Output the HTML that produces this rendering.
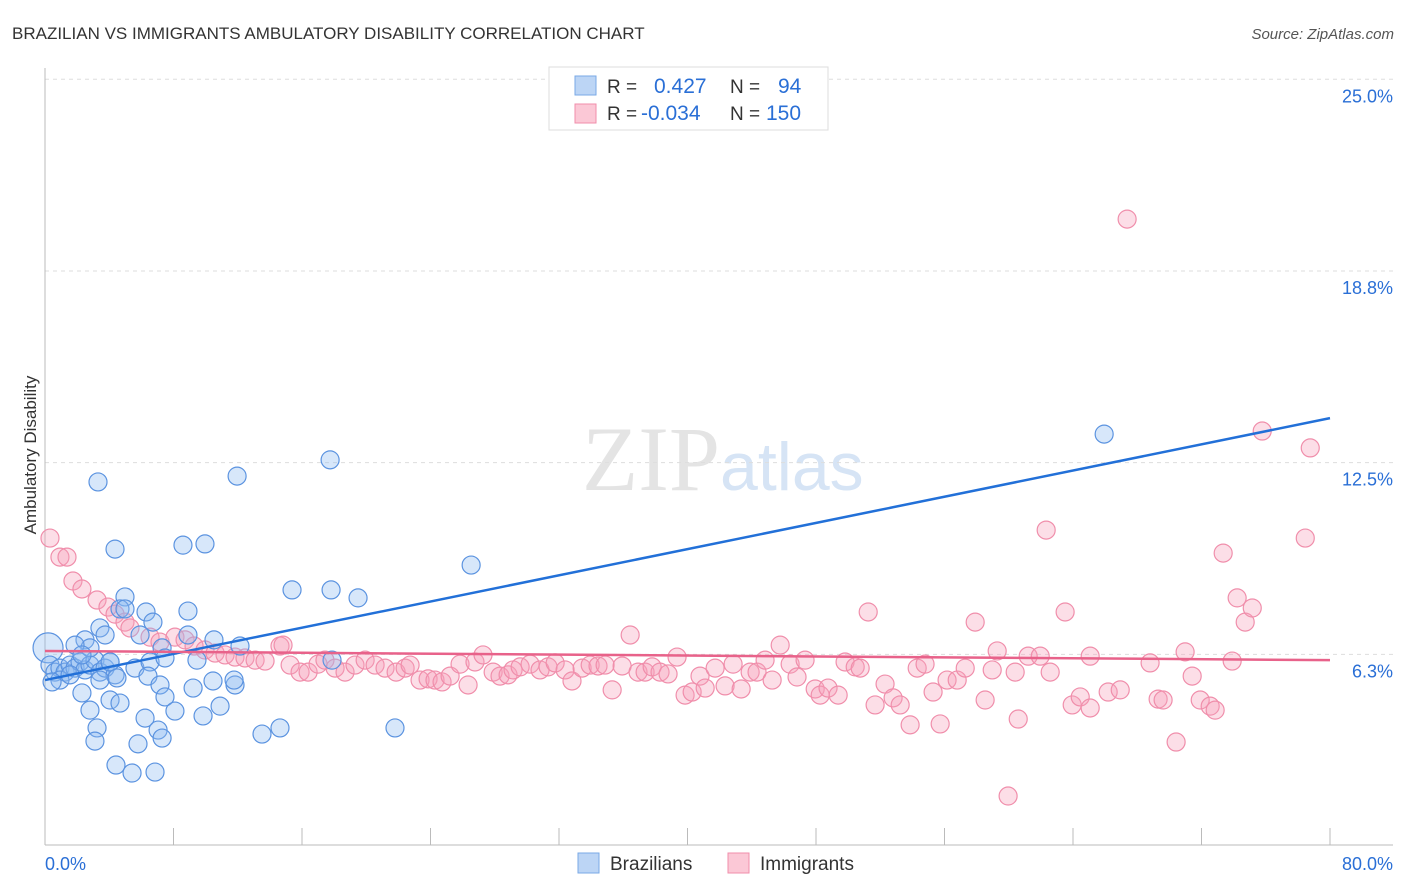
<!DOCTYPE html>
<html><head><meta charset="utf-8">
<style>
body{margin:0;background:#fff;font-family:"Liberation Sans",sans-serif;}
#wrap{position:relative;width:1406px;height:892px;overflow:hidden;}
</style></head>
<body>
<div id="wrap">
<svg id="chart" width="1406" height="892" xmlns="http://www.w3.org/2000/svg">
  <text x="12" y="39" font-size="17" fill="#333">BRAZILIAN VS IMMIGRANTS AMBULATORY DISABILITY CORRELATION CHART</text>
  <text x="1394" y="39" font-size="15" fill="#555" font-style="italic" text-anchor="end">Source: ZipAtlas.com</text>
  <text x="720" y="490" font-size="92" fill="#e4e4e4" font-family="Liberation Serif,serif" text-anchor="end">ZIP</text>
  <text x="720" y="490" font-size="68" fill="#d6e4f5" text-anchor="start">atlas</text>
  <g id="grid"></g>
  <g id="axes"></g>
  <g id="pts"></g>
  <g id="trends"></g>
  <text x="36" y="455" font-size="17" fill="#333" text-anchor="middle" transform="rotate(-90 36 455)">Ambulatory Disability</text>
  <g>
    <rect x="549" y="67" width="279" height="63" fill="#fff" stroke="#ddd"/>
    <rect x="575" y="76" width="21" height="19" fill="#bcd5f5" stroke="#7aa9e6"/>
    <rect x="575" y="104" width="21" height="19" fill="#fbc8d6" stroke="#f08eab"/>
    <text x="607" y="93" font-size="19" fill="#333">R = </text><text x="654" y="93" font-size="21" fill="#2a6fd6">0.427</text>
    <text x="730" y="93" font-size="19" fill="#333">N = </text><text x="778" y="93" font-size="21" fill="#2a6fd6">94</text>
    <text x="607" y="120" font-size="19" fill="#333">R = </text><text x="641" y="120" font-size="21" fill="#2a6fd6">-0.034</text>
    <text x="730" y="120" font-size="19" fill="#333">N = </text><text x="766" y="120" font-size="21" fill="#2a6fd6">150</text>
  </g>
  <g>
    <rect x="578" y="853" width="21" height="20" fill="#bcd5f5" stroke="#7aa9e6"/>
    <text x="610" y="870" font-size="19" fill="#333">Brazilians</text>
    <rect x="728" y="853" width="21" height="20" fill="#fbc8d6" stroke="#f08eab"/>
    <text x="760" y="870" font-size="19" fill="#333">Immigrants</text>
  </g>
</svg>
</div>
<script>
const yTicks = [6.3, 12.5, 18.8, 25.0];
const xTickLabels = ["0.0%", "80.0%"];
const xTickCount = 10;
const blueX = [0.19,0.31,0.62,0.93,1.25,1.56,1.87,2.18,2.49,2.8,3.11,3.42,3.74,4.05,4.36,0.93,0.44,1.56,
 3.3,11.96,17.75,65.94,4.36,8.59,9.96,26.53,15.38,17.81,19.49,4.98,4.67,4.98,6.29,8.9,6.72,3.42,3.74,2.49,2.8,5.92,7.29,8.9,10.52,12.14,1.87,2.3,
 4.05,5.6,6.54,7.47,9.46,17.87,3.42,4.48,6.41,7.16,2.3,4.05,4.67,7.47,9.22,10.46,11.83,11.77,
 2.8,6.23,8.09,9.84,10.9,3.24,7.04,13.51,14.63,21.79,3.11,5.79,7.29,4.42,5.42,6.85];
const blueY = [6.46,5.9,5.67,5.8,5.67,5.9,5.8,6.0,5.74,5.9,6.06,5.67,5.8,6.0,5.58,5.41,5.35,5.58,
 11.87,12.06,12.59,13.43,9.68,9.81,9.85,9.16,8.35,8.35,8.09,8.12,7.73,7.73,7.63,7.66,7.3,7.11,6.88,6.72,6.46,6.88,6.46,6.88,6.72,6.52,6.55,6.23,
 6.0,5.8,6.0,6.13,6.06,6.06,5.41,5.48,5.54,5.25,4.99,4.76,4.66,4.86,5.15,5.38,5.25,5.41,
 4.43,4.17,4.4,4.24,4.56,3.85,3.78,3.65,3.85,3.85,3.42,3.33,3.52,2.64,2.38,2.41];
const pinkX = [0.31,0.93,1.37,1.74,2.30,3.24,3.92,4.36,4.98,5.29,6.54,7.16,8.09,8.72,9.28,9.96,10.59,11.21,11.83,12.45,13.08,13.70,14.63,14.82,15.26,15.88,16.38,17.0,17.43,18.06,18.68,19.30,19.93,20.55,21.17,21.86,22.42,22.73,23.35,23.85,24.28,24.72,25.22,25.84,26.34,26.77,27.27,27.90,28.33,28.83,29.14,29.58,30.20,30.82,31.32,31.76,32.38,32.81,33.44,33.94,34.43,34.87,35.31,35.93,36.43,36.92,37.36,37.80,38.29,38.79,39.35,39.85,40.29,40.78,41.10,41.72,42.34,42.84,43.34,43.90,44.33,44.83,45.27,45.77,46.39,46.82,47.32,47.95,48.26,48.75,49.38,49.81,50.44,50.75,51.25,51.68,52.30,52.80,53.24,53.86,54.30,54.79,55.29,55.73,56.16,56.79,57.29,57.91,58.53,58.97,59.28,59.96,60.40,60.59,61.21,61.96,62.33,62.58,63.51,63.95,64.45,65.07,65.07,66.19,66.94,67.37,68.80,69.30,69.61,70.42,70.98,71.42,71.92,72.54,72.85,73.35,73.91,74.22,74.72,75.16,75.78,78.46,78.77];
const pinkY = [10.04,9.42,9.42,8.64,8.38,8.02,7.79,7.56,7.30,7.11,6.81,6.65,6.81,6.72,6.52,6.39,6.29,6.23,6.16,6.13,6.06,6.03,6.52,6.55,5.90,5.67,5.67,5.93,6.06,5.80,5.67,5.90,6.06,5.90,5.80,5.67,5.80,5.90,5.41,5.45,5.41,5.35,5.54,5.93,5.25,6.00,6.23,5.67,5.54,5.58,5.74,5.84,5.93,5.74,5.84,5.97,5.74,5.38,5.80,5.90,5.87,5.90,5.09,5.87,6.88,5.67,5.67,5.84,5.67,5.61,6.16,4.92,5.02,5.54,5.15,5.80,5.22,5.93,5.12,5.67,5.67,6.06,5.41,6.55,5.93,5.51,6.06,5.12,4.92,5.15,4.92,6.00,5.84,5.80,7.63,4.60,5.28,4.83,4.60,3.95,5.80,5.93,5.02,3.98,5.41,5.41,5.80,7.30,4.76,5.74,6.36,1.63,5.67,4.14,6.19,6.19,10.30,5.67,7.63,4.60,4.86,6.19,4.50,5.02,5.09,20.44,5.97,4.79,4.76,3.39,6.33,5.54,4.76,4.56,4.43,9.55,6.03,8.09,7.30,7.76,13.53,10.04,12.98];
const blueTrend = [5.41, 13.95];
const pinkTrend = [6.36, 6.06];

const X0=45, X1=1330, XMAX=80, YB=846, YPX=30.67;
const sx = v => X0 + v/XMAX*(X1-X0);
const sy = v => YB - v*YPX;
const NS="http://www.w3.org/2000/svg";
function mk(tag, attrs, parent){const e=document.createElementNS(NS,tag);for(const k in attrs)e.setAttribute(k,attrs[k]);parent.appendChild(e);return e;}

const grid=document.getElementById('grid'), axes=document.getElementById('axes');
yTicks.forEach((t,i)=>{
  const y=sy(t*1.0 === 6.3 ? 6.25 : t===12.5?12.5:t===18.8?18.75:25);
  const l=mk('line',{x1:X0,x2:1393,y1:y,y2:y,stroke:'#ddd','stroke-dasharray':'4,4'},grid);
  
  
  const tx=mk('text',{x:1393,y:y+23,'font-size':18,fill:'#2a6fd6','text-anchor':'end'},axes);
  tx.textContent=t.toFixed(1)+'%';
  
  
});
const ax=mk('line',{x1:X0,x2:1393,y1:845,y2:845,stroke:'#bbb'},axes);


const ay=mk('line',{x1:X0,x2:X0,y1:68,y2:845,stroke:'#bbb'},axes);


for(let i=0;i<=xTickCount;i++){
  const x=sx(i*XMAX/xTickCount);
  const t=mk('line',{x1:x,x2:x,y1:828,y2:845,stroke:'#bbb'},axes);
  
  
}
const xl0=mk('text',{x:45,y:870,'font-size':18,fill:'#2a6fd6'},axes);
xl0.textContent=xTickLabels[0];


const xl1=mk('text',{x:1393,y:870,'font-size':18,fill:'#2a6fd6','text-anchor':'end'},axes);
xl1.textContent=xTickLabels[1];



const pts=document.getElementById('pts');
pinkX.forEach((v,i)=>{
  const c=mk('circle',{cx:sx(v),cy:sy(pinkY[i]),r:9,fill:'rgba(246,160,186,0.35)',stroke:'#f08eab','stroke-width':1.2},pts);
  
  
});
blueX.forEach((v,i)=>{
  const c=mk('circle',{cx:sx(v),cy:sy(blueY[i]),r:i===0?15:9,fill:'rgba(140,185,240,0.35)',stroke:'#5b93e0','stroke-width':1.2},pts);
  
  
});
const tr=document.getElementById('trends');
const bl=mk('line',{x1:sx(0),y1:sy(blueTrend[0]),x2:sx(XMAX),y2:sy(blueTrend[1]),stroke:'#2270d8','stroke-width':2.5},tr);


const pl=mk('line',{x1:sx(0),y1:sy(pinkTrend[0]),x2:sx(XMAX),y2:sy(pinkTrend[1]),stroke:'#e8628a','stroke-width':2.5},tr);


</script>
</body></html>
